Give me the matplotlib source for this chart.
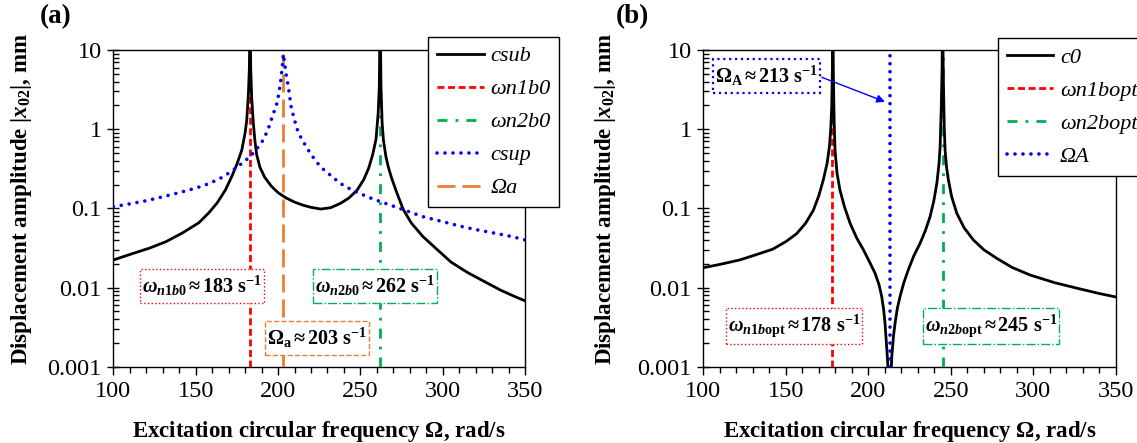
import matplotlib.pyplot as plt
import numpy as np
from matplotlib.path import Path
from matplotlib.ticker import LogLocator, NullFormatter

plt.rcParams['font.family'] = ['Liberation Serif', 'DejaVu Serif']
plt.rcParams['mathtext.fontset'] = 'custom'
plt.rcParams['mathtext.rm'] = 'Liberation Serif:bold'
plt.rcParams['mathtext.it'] = 'Liberation Serif:italic:bold'
plt.rcParams['mathtext.bf'] = 'Liberation Serif:bold'

# ---- data ----
# (a) substructure response csub and csup
csub_x = [100, 112, 122, 132, 142, 152, 158, 163, 168, 172, 175, 178, 180, 181, 182, 182.6, 183,
          183.4, 184, 185, 186, 187, 189, 192, 196, 200, 205, 210, 215, 220, 226, 232, 238, 243,
          248, 252, 255, 257.5, 259.5, 260.8, 261.5, 262, 262.5, 263.2, 264, 265.5, 267, 269,
          272, 276, 281, 288, 296, 305, 315, 325, 335, 345, 350]
csub_y = [0.0223, 0.027, 0.0315, 0.038, 0.049, 0.066, 0.088, 0.117, 0.17, 0.255, 0.36, 0.546, 0.9,
          1.3, 2.8, 6, 40, 6, 2.5, 1.19, 0.7, 0.48, 0.33, 0.245, 0.19, 0.158, 0.135, 0.12, 0.11,
          0.103, 0.098, 0.102, 0.116, 0.135, 0.17, 0.23, 0.32, 0.48, 0.75, 1.6, 3.5, 40, 3.5, 1.2,
          0.73, 0.45, 0.33, 0.24, 0.16, 0.097, 0.065, 0.044, 0.031, 0.021, 0.0155, 0.012, 0.0093,
          0.0075, 0.0068]
csup_x = [100, 110, 120, 130, 140, 150, 158, 165, 172, 178, 183, 187, 191, 194, 197, 199, 200.5,
          201.7, 202.6, 203.2, 204, 205.2, 206.3, 208, 210, 212.4, 215.4, 220, 225.6, 232, 237.7,
          245, 255, 262, 275, 288, 300, 310, 320, 333, 342, 350]
csup_y = [0.105, 0.114, 0.125, 0.14, 0.158, 0.18, 0.205, 0.24, 0.295, 0.37, 0.45, 0.56, 0.73, 1.0,
          1.55, 2.0, 2.8, 4.2, 6.2, 8.9, 6.8, 4.5, 3.4, 1.9, 1.3, 0.89, 0.69, 0.48, 0.337, 0.26,
          0.207, 0.17, 0.138, 0.122, 0.098, 0.0785, 0.068, 0.06, 0.054, 0.048, 0.044, 0.040]
a_freqs = [183, 262]      # wn1b0, wn2b0
a_omega = 203             # Omega a

# (b) optimised response c0
c0_x = [100, 111, 122, 132, 142, 150, 156.6, 162, 166.7, 170, 172.7, 175, 176.4, 177.2, 177.8,
        178.2, 178.5, 178.8, 179.3, 179.8, 181, 182.8, 185.5, 188.9, 193, 197, 201, 204.1, 206.5,
        208.1, 209.3, 210.1, 211.5, 212.5, 213, 213.5, 214.2, 215.2, 216.2, 217.6, 219.2, 221.5,
        224.2, 227.5, 231.3, 234.5, 237.4, 239.7, 241.5, 242.8, 243.5, 244.2, 244.7, 245, 245.4,
        246, 246.5, 247.4, 248.5, 250.5, 253.6, 258, 263.6, 270, 277.8, 287, 298, 313, 328.3,
        340, 350]
c0_y = [0.0178, 0.0198, 0.0223, 0.026, 0.0305, 0.038, 0.048, 0.065, 0.095, 0.145, 0.229, 0.37,
        0.6, 1.0, 1.92, 6, 40, 5, 1.2, 0.546, 0.28, 0.17, 0.105, 0.065, 0.042, 0.03, 0.0205,
        0.0151, 0.0108, 0.0077, 0.0052, 0.00355, 0.00134, 0.0006, 0.0003, 0.0006, 0.00134,
        0.0024, 0.00355, 0.0055, 0.0077, 0.0115, 0.0167, 0.025, 0.036, 0.052, 0.0785, 0.125,
        0.207, 0.36, 0.6, 1.92, 6, 40, 5, 1.1, 0.546, 0.33, 0.229, 0.14, 0.0867, 0.057, 0.04,
        0.03, 0.0234, 0.018, 0.0144, 0.0115, 0.0096, 0.0084, 0.0076]
b_freqs = [178, 245]      # wn1bopt, wn2bopt
b_omega = 213             # Omega A

x_ticks = [100, 150, 200, 250, 300, 350]
y_ticks = [0.001, 0.01, 0.1, 1, 10]
y_tick_labels = ['0.001', '0.01', '0.1', '1', '10']

RED = '#FF0000'
GREEN = '#00B050'
BLUE = '#0000FF'
ORANGE = '#ED7D31'
DOTS = (0, (0.01, 2.2))


def tall_box(x0, y0, width, height, mutation_size):
    # square box, little padding at the sides, more above and below
    px = 0.1 * mutation_size
    py = 0.25 * mutation_size
    x0, y0 = x0 - px, y0 - py
    x1, y1 = x0 + width + 2 * px, y0 + height + 2 * py
    return Path([(x0, y0), (x1, y0), (x1, y1), (x0, y1), (x0, y0)], closed=True)


def style_axes(ax):
    ax.set_yscale('log')
    ax.set_xlim(100, 350)
    ax.set_ylim(0.001, 10)
    ax.set_xticks(x_ticks)
    ax.set_xticks(np.arange(100, 351, 10), minor=True)
    ax.set_yticks(y_ticks)
    ax.set_yticklabels(y_tick_labels)
    ax.yaxis.set_minor_locator(LogLocator(base=10, subs=range(2, 10)))
    ax.yaxis.set_minor_formatter(NullFormatter())
    ax.tick_params(axis='x', which='major', direction='out', length=6, width=1, labelsize=17.5, pad=4)
    ax.tick_params(axis='x', which='minor', direction='out', length=4, width=1)
    ax.tick_params(axis='y', which='major', direction='inout', length=9, width=1, labelsize=17.5, pad=4)
    ax.tick_params(axis='y', which='minor', direction='in', length=4, width=1)
    for sp in ax.spines.values():
        sp.set_linewidth(1.0)
    ax.set_xlabel(r'Excitation circular frequency $\mathit{Ω}$, rad/s', fontsize=16.5, fontweight='bold')
    ax.set_ylabel(r'Displacement amplitude |$x_{\mathrm{02}}$|, mm', fontsize=16.5, fontweight='bold')
    ax.xaxis.set_label_coords(0.5, -0.165)


def box_text(ax, x, y, s, color, ls, lw=1.0):
    ax.text(x, y, s, ha='center', va='center', fontsize=14.5, fontweight='bold', zorder=10,
            bbox=dict(boxstyle=tall_box, fc='white', ec=color, ls=ls, lw=lw))


fig = plt.figure(figsize=(11.37, 4.43), dpi=100)
ax1 = fig.add_axes([0.0997, 0.1722, 0.3621, 0.7149])
ax2 = fig.add_axes([0.6186, 0.1722, 0.3628, 0.7149])

# ---------------- (a) ----------------
ax1.plot(csub_x, csub_y, color='black', lw=2, label='csub', zorder=4)
ax1.plot([a_freqs[0]] * 2, [0.001, 10], color=RED, lw=2, dashes=(2.5, 1.3), label='ωn1b0', zorder=3)
ax1.plot([a_freqs[1]] * 2, [0.001, 10], color=GREEN, lw=2, dashes=(3.6, 2.9, 1, 2.9), label='ωn2b0', zorder=3)
ax1.plot(csup_x, csup_y, color=BLUE, lw=2.6, linestyle=DOTS, dash_capstyle='round',
         label='csup', zorder=5)
ax1.plot([a_omega] * 2, [0.001, max(csup_y)], color=ORANGE, lw=2, dashes=(6.5, 2.5), label='Ωa', zorder=3)
style_axes(ax1)
ax1.yaxis.set_label_coords(-0.193, 0.53)

box_text(ax1, 154.1, 0.0104, r'$\omega_{n1b0}\,$≈$\,$183 s$^{-1}$', RED, ':')
box_text(ax1, 223.8, 0.00229, r'$\mathit{Ω}_{\mathrm{a}}\,$≈$\,$203 s$^{-1}$', ORANGE, '--')
box_text(ax1, 258.6, 0.0104, r'$\omega_{n2b0}\,$≈$\,$262 s$^{-1}$', GREEN, '-.')

leg1 = ax1.legend(loc='upper left', bbox_to_anchor=(0.3764, 0.9165), bbox_transform=fig.transFigure,
                  borderaxespad=0, fancybox=False, framealpha=1, edgecolor='black',
                  prop={'style': 'italic', 'size': 16}, handlelength=2.1, handletextpad=0.3,
                  labelspacing=0.56, borderpad=0.4)
leg1.get_frame().set_linewidth(1.0)
leg1.set_zorder(20)
fig.text(0.049, 0.963, '(a)', fontsize=19.5, fontweight='bold', ha='center', va='center')

# ---------------- (b) ----------------
ax2.plot(c0_x, c0_y, color='black', lw=2, label='c0', zorder=4)
ax2.plot([b_freqs[0]] * 2, [0.001, 10], color=RED, lw=2, dashes=(2.5, 1.3), label='ωn1bopt', zorder=3)
ax2.plot([b_freqs[1]] * 2, [0.001, 10], color=GREEN, lw=2, dashes=(3.6, 2.9, 1, 2.9), label='ωn2bopt', zorder=3)
ax2.plot([b_omega] * 2, [0.001, 10], color=BLUE, lw=2.6, linestyle=DOTS, dash_capstyle='round',
         label='ΩA', zorder=5)
style_axes(ax2)
ax2.yaxis.set_label_coords(-0.207, 0.53)

box_text(ax2, 138.1, 4.72, r'$\mathit{Ω}_{\mathrm{A}}\,$≈$\,$213 s$^{-1}$', BLUE, ':', lw=1.6)
ax2.annotate('', xy=(210.1, 2.22), xytext=(171.8, 4.52),
             arrowprops=dict(arrowstyle='-|>', color=BLUE, lw=1, mutation_scale=12, shrinkA=0, shrinkB=0),
             zorder=9)
box_text(ax2, 154.9, 0.00326, r'$\omega_{n1b\mathrm{opt}}\,$≈$\,$178 s$^{-1}$', RED, ':')
box_text(ax2, 274.3, 0.00326, r'$\omega_{n2b\mathrm{opt}}\,$≈$\,$245 s$^{-1}$', GREEN, '-.')

leg2 = ax2.legend(loc='upper left', bbox_to_anchor=(0.8775, 0.9135), bbox_transform=fig.transFigure,
                  borderaxespad=0, fancybox=False, framealpha=1, edgecolor='black',
                  prop={'style': 'italic', 'size': 16}, handlelength=2.1, handletextpad=0.3,
                  labelspacing=0.56, borderpad=0.4)
leg2.get_frame().set_linewidth(1.0)
leg2.set_zorder(20)
fig.text(0.556, 0.963, '(b)', fontsize=19.5, fontweight='bold', ha='center', va='center')

fig.savefig('out.png', dpi=100)
